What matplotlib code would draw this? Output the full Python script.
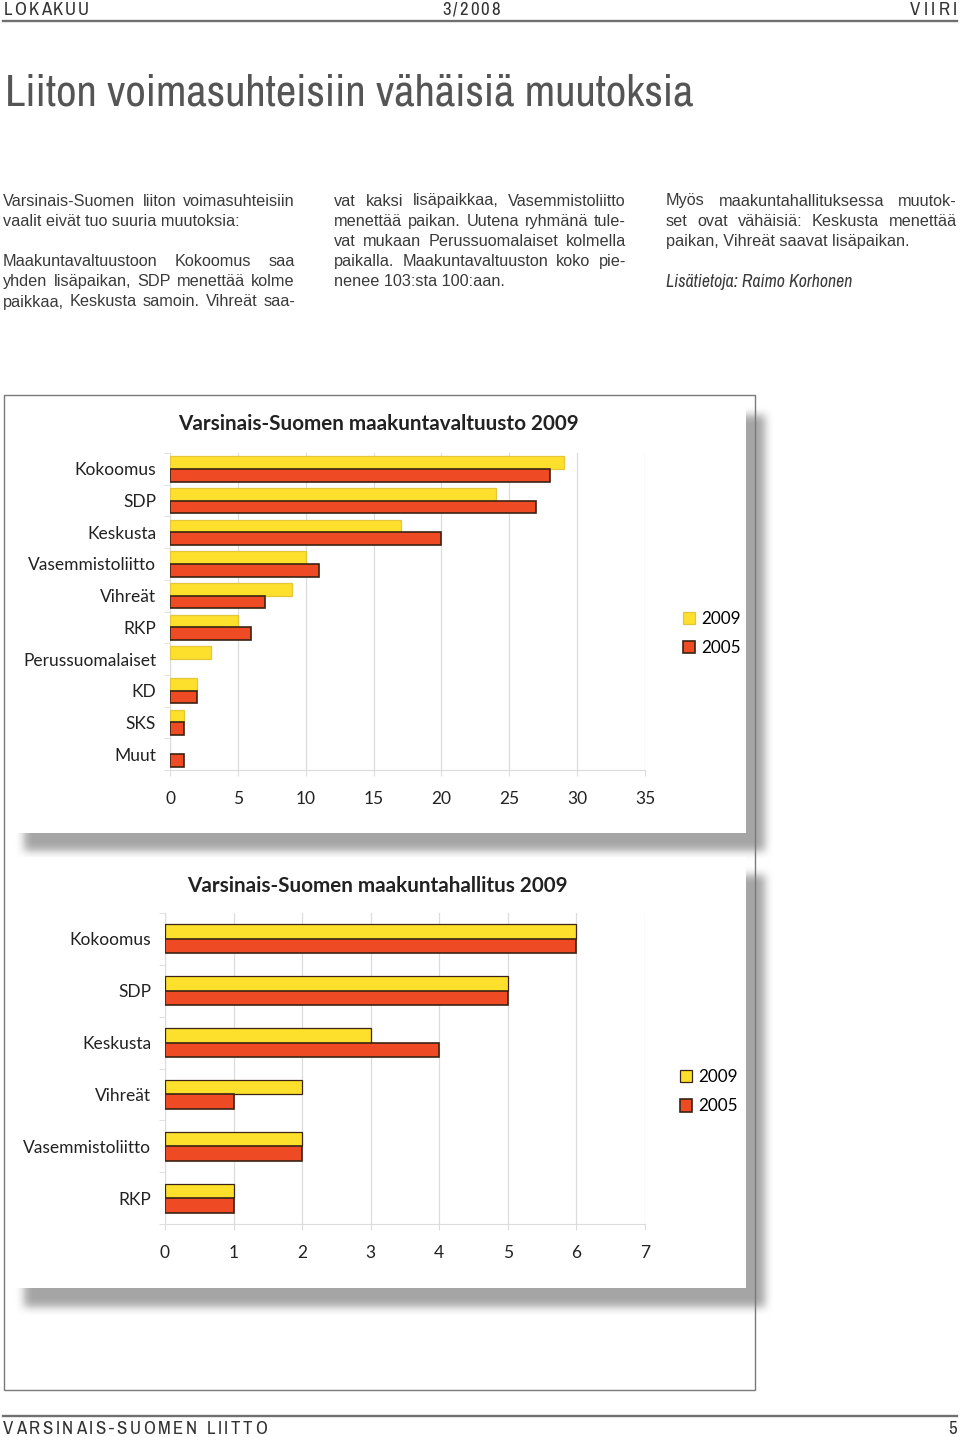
import numpy as np
import matplotlib
matplotlib.use('Agg')
import matplotlib.pyplot as plt
from matplotlib import font_manager
from matplotlib.patches import Rectangle

# data
council_parties = ['Kokoomus', 'SDP', 'Keskusta', 'Vasemmistoliitto', 'Vihreät',
                   'RKP', 'Perussuomalaiset', 'KD', 'SKS', 'Muut']
council_2009 = [29, 24, 17, 10, 9, 5, 3, 2, 1, 0]
council_2005 = [28, 27, 20, 11, 7, 6, 0, 2, 1, 1]
council_ticks = [0, 5, 10, 15, 20, 25, 30, 35]

board_parties = ['Kokoomus', 'SDP', 'Keskusta', 'Vihreät', 'Vasemmistoliitto', 'RKP']
board_2009 = [6, 5, 3, 2, 2, 1]
board_2005 = [6, 5, 4, 1, 2, 1]
board_ticks = [0, 1, 2, 3, 4, 5, 6, 7]

series_labels = ['2009', '2005']

col1 = [('Varsinais-Suomen liiton voimasuhteisiin', True),
        ('vaalit eivät tuo suuria muutoksia:', False),
        ('', False),
        ('Maakuntavaltuustoon Kokoomus saa', True),
        ('yhden lisäpaikan, SDP menettää kolme', True),
        ('paikkaa, Keskusta samoin. Vihreät saa-', True)]
col2 = [('vat kaksi lisäpaikkaa, Vasemmistoliitto', True),
        ('menettää paikan. Uutena ryhmänä tule-', True),
        ('vat mukaan Perussuomalaiset kolmella', True),
        ('paikalla. Maakuntavaltuuston koko pie-', True),
        ('nenee 103:sta 100:aan.', False)]
col3 = [('Myös maakuntahallituksessa muutok-', True),
        ('set ovat vähäisiä: Keskusta menettää', True),
        ('paikan, Vihreät saavat lisäpaikan.', False)]

YELLOW = '#fde02c'
RED = '#ee4a24'
DARK = '#3b2414'
LIGHT_EDGE = '#e3c63a'
GRID = '#dcdcdc'

names = sorted({f.name for f in font_manager.fontManager.ttflist})
narrow = [n for n in names if ('Condensed' in n or 'Narrow' in n) and 'Serif' not in n
          and 'Mono' not in n]
NARROW = narrow[0] if narrow else 'Roboto'
BODY = 'Liberation Sans'
CHART = 'Lato'

W, H = 960, 1437
fig = plt.figure(figsize=(W / 100, H / 100), dpi=100)
bg = fig.add_axes([0, 0, 1, 1], zorder=0)
bg.set_xlim(0, W)
bg.set_ylim(H, 0)
bg.axis('off')
renderer = fig.canvas.get_renderer()


def width(t):
    return t.get_window_extent(renderer).width


def fit_text(x, y, s, span, size, **kw):
    # scale the text so it spans the same width as on the page
    t = bg.text(x, y, s, va='center', fontsize=size, **kw)
    t.set_fontsize(size * span / width(t))
    return t


def tracked(x, y, s, span, size, ha='left', color='#333'):
    ts = [bg.text(0, y, c, va='baseline', fontsize=size, family=NARROW, color=color) for c in s]
    ws = [width(t) if c != ' ' else size * 0.3 for t, c in zip(ts, s)]
    track = (span - sum(ws)) / (len(s) - 1) if len(s) > 1 else 0
    track = max(track, 0.5)
    total = sum(ws) + track * (len(s) - 1)
    if ha == 'right':
        x -= total
    elif ha == 'center':
        x -= total / 2
    for t, w in zip(ts, ws):
        t.set_x(x)
        x += w + track


def column(x0, x1, y0, lines, size=11.7, step=20.2):
    for i, (line, just) in enumerate(lines):
        y = y0 + i * step
        if not line:
            continue
        words = line.split()
        if not just or len(words) < 2:
            bg.text(x0, y, line, va='center', fontsize=size, family=BODY, color='#3a3a3a')
            continue
        ts = [bg.text(0, y, w, va='center', fontsize=size, family=BODY, color='#3a3a3a')
              for w in words]
        ws = [width(t) for t in ts]
        gap = (x1 - x0 - sum(ws)) / (len(words) - 1)
        x = x0
        for t, w in zip(ts, ws):
            t.set_x(x)
            x += w + gap


# header / footer
tracked(4, 15, 'LOKAKUU', 85, 13.5)
tracked(471, 15, '3/2008', 58, 13.5, ha='center')
tracked(957, 15, 'VIIRI', 47, 13.5, ha='right')
bg.plot([3, 957], [20.5, 20.5], color='#707070', lw=1.7)
bg.plot([3, 957], [1416, 1416], color='#707070', lw=1.7)
tracked(3, 1434, 'VARSINAIS-SUOMEN LIITTO', 264, 13.5)
tracked(957, 1434, '5', 0, 13.5, ha='right')

fit_text(5, 93, 'Liiton voimasuhteisiin vähäisiä muutoksia', 690, 33,
         family=NARROW, color='#555555')

column(3, 295, 201, col1)
column(334, 626, 201, col2)
column(666, 957, 201, col3)
fit_text(666, 282, 'Lisätietoja: Raimo Korhonen', 186, 11.7,
         family=NARROW, style='italic', color='#3a3a3a')

# box with blurred shadows
mask = np.zeros((H, W))
mask[416:852, 25:766] = 1
mask[876:1308, 25:766] = 1


def box_blur(a, k):
    for axis in (0, 1):
        c = np.cumsum(np.pad(a, [(k, k) if i == axis else (0, 0) for i in (0, 1)], mode='edge'),
                      axis=axis)
        n = a.shape[axis]
        if axis == 0:
            a = (c[2 * k:2 * k + n] - c[:n]) / (2 * k)
        else:
            a = (c[:, 2 * k:2 * k + n] - c[:, :n]) / (2 * k)
    return a


soft = box_blur(box_blur(mask, 5), 5)
rgba = np.zeros((H, W, 4))
rgba[..., :3] = 0.6
rgba[..., 3] = soft * 0.88
bg.imshow(rgba, extent=(0, W, H, 0), zorder=1, interpolation='bilinear', aspect='auto')
bg.add_patch(Rectangle((5, 396), 741, 437, fc='white', ec='none', zorder=2))
bg.add_patch(Rectangle((5, 857), 741, 431, fc='white', ec='none', zorder=2))
bg.add_patch(Rectangle((4, 395), 751, 995, fill=False, ec='#7a7a7a', lw=1, zorder=3))
bg.set_xlim(0, W)
bg.set_ylim(H, 0)

bg.text(378, 424, 'Varsinais-Suomen maakuntavaltuusto 2009', ha='center', va='center',
        fontsize=14.9, family=CHART, weight='bold', color='#222')
bg.text(377, 886, 'Varsinais-Suomen maakuntahallitus 2009', ha='center', va='center',
        fontsize=14.9, family=CHART, weight='bold', color='#222')


def px_axes(l, t, r, b):
    return fig.add_axes([l / W, 1 - b / H, (r - l) / W, (b - t) / H], zorder=5)


def chart(ax, parties, v09, v05, ticks, h, edge09, leg_x, leg_y):
    y = np.arange(len(parties))
    lw09 = [0.9 if v else 0 for v in v09]
    lw05 = [1.2 if v else 0 for v in v05]
    ax.barh(y - h / 2, v09, height=h, color=YELLOW, edgecolor=edge09, linewidth=lw09,
            label=series_labels[0], zorder=3)
    ax.barh(y + h / 2, v05, height=h, color=RED, edgecolor=DARK, linewidth=lw05,
            label=series_labels[1], zorder=3)
    ax.set_ylim(len(parties) - 0.5, -0.5)
    ax.set_xlim(ticks[0], ticks[-1])
    ax.set_xticks(ticks)
    ax.set_yticks(y)
    ax.set_yticklabels(parties)
    ax.set_yticks(np.arange(len(parties) + 1) - 0.5, minor=True)
    ax.tick_params(axis='y', which='major', length=0, pad=10, labelsize=12.5)
    ax.tick_params(axis='y', which='minor', length=4, color=GRID)
    ax.tick_params(axis='x', length=4, color=GRID, pad=11, labelsize=12.5)
    for lab in ax.get_xticklabels() + ax.get_yticklabels():
        lab.set_family(CHART)
        lab.set_color('#222')
    ax.grid(axis='x', color=GRID, lw=0.9, zorder=0)
    for s in ('top', 'right'):
        ax.spines[s].set_visible(False)
    for s in ('left', 'bottom'):
        ax.spines[s].set_color(GRID)
    ax.patch.set_alpha(0)
    ax.legend(loc='center left', bbox_to_anchor=(leg_x, leg_y), frameon=False,
              handlelength=0.72, handleheight=0.72, handletextpad=0.35,
              labelspacing=0.78, borderpad=0, borderaxespad=0,
              prop={'family': CHART, 'size': 12.3})


ax1 = px_axes(170, 453, 645, 770)
chart(ax1, council_parties, council_2009, council_2005, council_ticks, 0.4, LIGHT_EDGE,
      1.08, 0.43)
ax2 = px_axes(165, 913, 645, 1224)
chart(ax2, board_parties, board_2009, board_2005, board_ticks, 0.28, DARK, 1.073, 0.425)

fig.savefig('out.png', dpi=100)
